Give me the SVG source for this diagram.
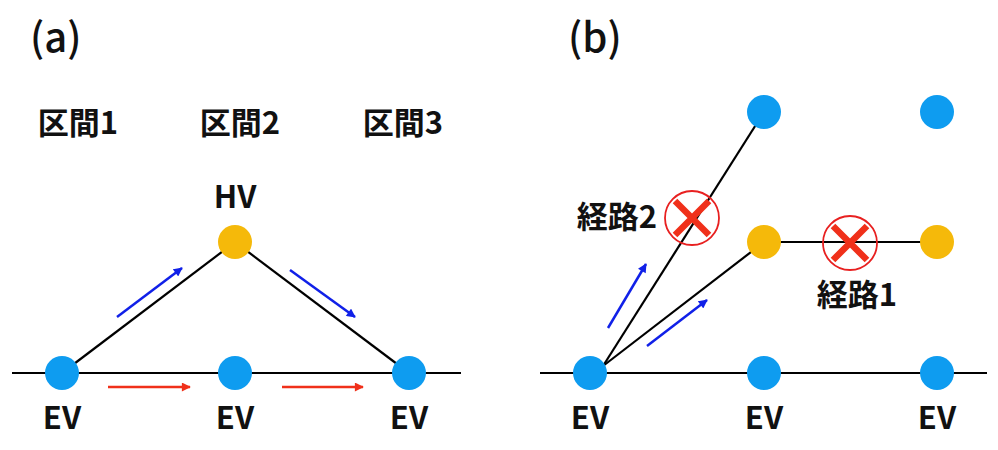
<svg xmlns="http://www.w3.org/2000/svg" width="998" height="450" viewBox="0 0 998 450">
<defs>
<style>
.t{font-family:"Noto Sans CJK JP","Noto Sans",sans-serif;font-weight:700;fill:#111;text-anchor:middle}
.lbl{font-size:31px}
.ttl{font-size:40px;font-weight:500;text-anchor:start}
.ev{fill:#0E9CF0}
.hv{fill:#F5B90A}
.ln{stroke:#000;stroke-width:2.2;fill:none}
.ba{stroke:#1020E8;stroke-width:2.5;fill:none}
.ra{stroke:#F0301A;stroke-width:2.5;fill:none}
.xc{stroke:#E82020;stroke-width:1.8;fill:none}
.xx{stroke:#F0301A;stroke-width:6.5;fill:none}
</style>
<marker id="mb" viewBox="0 0 10 10" refX="9" refY="5" markerWidth="10" markerHeight="9" markerUnits="userSpaceOnUse" orient="auto"><path d="M0,0 L10,5 L0,10 z" fill="#1020E8"/></marker>
<marker id="mr" viewBox="0 0 10 10" refX="9" refY="5" markerWidth="10" markerHeight="9" markerUnits="userSpaceOnUse" orient="auto"><path d="M0,0 L10,5 L0,10 z" fill="#F0301A"/></marker>
</defs>
<rect width="998" height="450" fill="#fff"/>
<g id="connectors">
<line class="ln" x1="12" y1="373" x2="461" y2="373"/>
<line class="ln" x1="62" y1="373" x2="235" y2="242"/>
<line class="ln" x1="235" y1="242" x2="409" y2="373"/>
<line class="ln" x1="540" y1="373" x2="987" y2="373"/>
<line class="ln" x1="603" y1="366" x2="764" y2="112"/>
<line class="ln" x1="603" y1="366" x2="764" y2="242"/>
<line class="ln" x1="764" y1="242" x2="937" y2="242"/>
<path class="ba" d="M117,317 L182,268" marker-end="url(#mb)"/>
<path class="ba" d="M290,270 L355,317" marker-end="url(#mb)"/>
<path class="ra" d="M108,387 L190,387" marker-end="url(#mr)"/>
<path class="ra" d="M282,387 L363,387" marker-end="url(#mr)"/>
<path class="ba" d="M608,328 L646,264" marker-end="url(#mb)"/>
<path class="ba" d="M647,346 L707,300" marker-end="url(#mb)"/>
</g>
<g id="a-labels">
<text class="t ttl" x="30" y="52">(a)</text>
<text class="t lbl" x="78" y="134">区間1</text>
<text class="t lbl" x="240" y="134">区間2</text>
<text class="t lbl" x="403" y="134">区間3</text>
</g>
<g id="a-hv"><circle class="hv" cx="235" cy="242" r="17"/><text class="t lbl" x="235" y="208">HV</text></g>
<g id="a-ev1"><circle class="ev" cx="62" cy="373" r="17"/><text class="t lbl" x="62" y="429">EV</text></g>
<g id="a-ev2"><circle class="ev" cx="235" cy="373" r="17"/><text class="t lbl" x="235" y="429">EV</text></g>
<g id="a-ev3"><circle class="ev" cx="409" cy="373" r="17"/><text class="t lbl" x="409" y="429">EV</text></g>
<g id="b-title"><text class="t ttl" x="568" y="52">(b)</text></g>
<g id="b-ev1"><circle class="ev" cx="590" cy="373" r="17"/><text class="t lbl" x="590" y="429">EV</text></g>
<g id="b-ev2"><circle class="ev" cx="764" cy="373" r="17"/><text class="t lbl" x="764" y="429">EV</text></g>
<g id="b-ev3"><circle class="ev" cx="937" cy="373" r="17"/><text class="t lbl" x="937" y="429">EV</text></g>
<g id="b-top1"><circle class="ev" cx="764" cy="112" r="17"/></g>
<g id="b-top2"><circle class="ev" cx="937" cy="112" r="17"/></g>
<g id="b-hv1"><circle class="hv" cx="764" cy="242" r="17"/></g>
<g id="b-hv2"><circle class="hv" cx="937" cy="242" r="17"/></g>
<g id="b-x2">
<circle class="xc" cx="692" cy="218" r="27"/>
<path class="xx" d="M675,201 L709,235 M709,201 L675,235"/>
<text class="t lbl" x="617" y="228">経路2</text>
</g>
<g id="b-x1">
<circle class="xc" cx="850" cy="243" r="27"/>
<path class="xx" d="M833,226 L867,260 M867,226 L833,260"/>
<text class="t lbl" x="857" y="306">経路1</text>
</g>
</svg>
